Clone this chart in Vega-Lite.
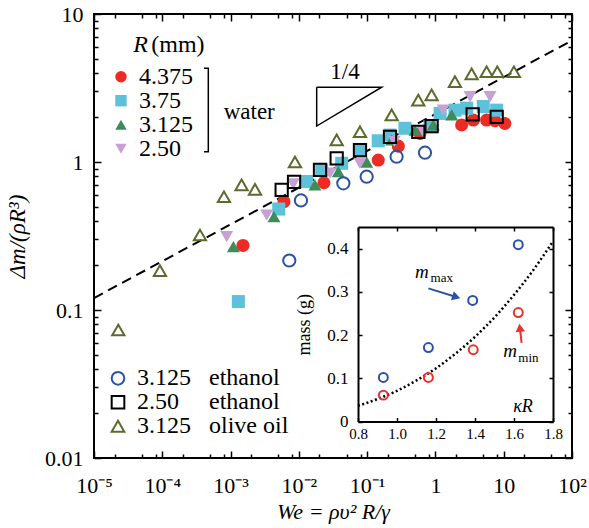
{
  "$schema": "https://vega.github.io/schema/vega-lite/v6.json",
  "width": 478,
  "height": 444,
  "autosize": {"type": "none"},
  "padding": {"left": 94, "top": 14, "right": 17, "bottom": 70},
  "background": "white",
  "config": {
    "view": {"stroke": "black", "strokeWidth": 2},
    "font": "Liberation Serif",
    "style": {"guide-label": {"font": "Liberation Serif", "fill": "black"}, "guide-title": {"font": "Liberation Serif", "fill": "black"}},
    "axis": {"labelFont": "Liberation Serif", "titleFont": "Liberation Serif", "labelColor": "black", "titleColor": "black", "tickColor": "black", "domainColor": "black", "titleFontWeight": "normal", "grid": false, "domain": false, "labelFontSize": 22, "titleFontSize": 22, "tickWidth": 1.5, "domainWidth": 2, "labelOverlap": false, "labelFlush": false},
    "legend": {"titleFont": "Liberation Serif", "labelFont": "Liberation Serif", "titleColor": "black", "labelColor": "black", "titleFontWeight": "normal", "titleFontSize": 24, "labelFontSize": 24, "padding": 0, "rowPadding": 0},
    "text": {"font": "Liberation Serif", "color": "black"}
  },
  "resolve": {"scale": {"x": "independent", "y": "independent"}, "axis": {"x": "independent", "y": "independent"}},
  "layer": [
    {
      "resolve": {"scale": {"color": "independent", "shape": "independent"}, "axis": {"x": "independent", "y": "independent"}, "legend": {"color": "independent", "shape": "independent"}},
      "layer": [
        {
          "data": {"values": [{"We": 1e-5, "dm": 0.1205}, {"We": 100, "dm": 6.63}]},
          "mark": {"type": "line", "stroke": "black", "strokeWidth": 2, "strokeDash": [10, 6]},
          "encoding": {
            "x": {"field": "We", "type": "quantitative", "scale": {"type": "log", "domain": [1e-5, 100], "nice": false},
              "axis": {"orient": "bottom", "values": [1e-5, 1e-4, 1e-3, 0.01, 0.1, 1, 10, 100], "tickSize": -7, "labelPadding": 24, "labelFont": "Liberation Serif", "labelExpr": "['10⁻⁵','10⁻⁴','10⁻³','10⁻²','10⁻¹','1','10','10²'][round(log(datum.value)/LN10)+5]", "title": "We = ρυ² R/γ", "titleFont": "Liberation Serif", "titleFontStyle": "italic", "titlePadding": 5}},
            "y": {"field": "dm", "type": "quantitative", "scale": {"type": "log", "domain": [0.01, 10], "nice": false},
              "axis": {"orient": "left", "values": [0.01, 0.1, 1, 10], "tickSize": -7, "labelPadding": 18, "labelFont": "Liberation Serif", "format": "~g", "title": "Δm/(ρR³)", "titleFont": "Liberation Serif", "titleFontSize": 23, "titleFontStyle": "italic", "titlePadding": 15}}
          }
        },
        {
          "data": {"values": [
            {"R": "4.375", "We": 0.00152, "dm": 0.273}, {"R": "4.375", "We": 0.00605, "dm": 0.539}, {"R": "4.375", "We": 0.0233, "dm": 0.724}, {"R": "4.375", "We": 0.1455, "dm": 1.03}, {"R": "4.375", "We": 0.286, "dm": 1.28}, {"R": "4.375", "We": 0.594, "dm": 1.56}, {"R": "4.375", "We": 2.42, "dm": 1.78}, {"R": "4.375", "We": 3.58, "dm": 1.92}, {"R": "4.375", "We": 5.62, "dm": 1.92}, {"R": "4.375", "We": 7.45, "dm": 1.9}, {"R": "4.375", "We": 10.4, "dm": 1.82},
            {"R": "3.75", "We": 0.0013, "dm": 0.114}, {"R": "3.75", "We": 0.00508, "dm": 0.481}, {"R": "3.75", "We": 0.013, "dm": 0.738}, {"R": "3.75", "We": 0.0216, "dm": 0.883}, {"R": "3.75", "We": 0.0424, "dm": 0.98}, {"R": "3.75", "We": 0.0785, "dm": 1.205}, {"R": "3.75", "We": 0.1455, "dm": 1.39}, {"R": "3.75", "We": 0.216, "dm": 1.52}, {"R": "3.75", "We": 0.358, "dm": 1.69}, {"R": "3.75", "We": 0.832, "dm": 1.73}, {"R": "3.75", "We": 1.17, "dm": 2.13}, {"R": "3.75", "We": 1.93, "dm": 2.24}, {"R": "3.75", "We": 2.87, "dm": 2.31}, {"R": "3.75", "We": 5.02, "dm": 2.37}, {"R": "3.75", "We": 7.89, "dm": 2.24},
            {"R": "3.125", "We": 0.0011, "dm": 0.268}, {"R": "3.125", "We": 0.00432, "dm": 0.427}, {"R": "3.125", "We": 0.0172, "dm": 0.7}, {"R": "3.125", "We": 0.0378, "dm": 0.86}, {"R": "3.125", "We": 0.0984, "dm": 1.0}, {"R": "3.125", "We": 0.2286, "dm": 1.41}, {"R": "3.125", "We": 0.502, "dm": 1.64}, {"R": "3.125", "We": 0.93, "dm": 1.78}, {"R": "3.125", "We": 1.73, "dm": 2.08},
            {"R": "2.50", "We": 0.000877, "dm": 0.313}, {"R": "2.50", "We": 0.00338, "dm": 0.438}, {"R": "2.50", "We": 0.00828, "dm": 0.71}, {"R": "2.50", "We": 0.0286, "dm": 0.84}, {"R": "2.50", "We": 0.0785, "dm": 0.98}, {"R": "2.50", "We": 0.25, "dm": 1.38}, {"R": "2.50", "We": 0.65, "dm": 1.62}, {"R": "2.50", "We": 1.3, "dm": 2.24}, {"R": "2.50", "We": 3.21, "dm": 2.76}, {"R": "2.50", "We": 6.3, "dm": 2.76}
          ]},
          "mark": {"type": "point", "filled": true, "opacity": 1, "size": 170, "strokeWidth": 0},
          "encoding": {
            "x": {"field": "We", "type": "quantitative", "scale": {"type": "log", "domain": [1e-5, 100], "nice": false},
              "axis": {"orient": "bottom", "values": [2e-5, 5e-5, 8e-5, 2e-4, 5e-4, 8e-4, 2e-3, 5e-3, 8e-3, 0.02, 0.05, 0.08, 0.2, 0.5, 0.8, 2, 5, 8, 20, 50, 80], "tickSize": -4, "labels": false, "title": null}},
            "y": {"field": "dm", "type": "quantitative", "scale": {"type": "log", "domain": [0.01, 10], "nice": false},
              "axis": {"orient": "left", "values": [0.02, 0.03, 0.04, 0.05, 0.06, 0.07, 0.08, 0.09, 0.2, 0.3, 0.4, 0.5, 0.6, 0.7, 0.8, 0.9, 2, 3, 4, 5, 6, 7, 8, 9], "tickSize": -4, "labels": false, "title": null}},
            "color": {"field": "R", "type": "nominal", "scale": {"domain": ["4.375", "3.75", "3.125", "2.50"], "range": ["#ec2b25", "#5ec1da", "#3f8b5a", "#c7a0d4"]},
              "legend": {"orient": "none", "legendX": 15, "legendY": 50.7, "title": null, "labelFont": "Liberation Serif", "labelFontSize": 24, "rowPadding": -2.5, "symbolSize": 130, "labelOffset": 6, "symbolOpacity": 1}},
            "shape": {"field": "R", "type": "nominal", "scale": {"domain": ["4.375", "3.75", "3.125", "2.50"], "range": ["circle", "square", "triangle-up", "triangle-down"]},
              "legend": {"orient": "none", "legendX": 15, "legendY": 50.7, "title": null, "labelFont": "Liberation Serif", "labelFontSize": 24, "rowPadding": -2.5, "symbolSize": 130, "labelOffset": 6, "symbolOpacity": 1}}
          }
        },
        {
          "data": {"values": [
            {"fluid": "3.125 ethanol", "We": 0.00724, "dm": 0.216}, {"fluid": "3.125 ethanol", "We": 0.01074, "dm": 0.55}, {"fluid": "3.125 ethanol", "We": 0.0448, "dm": 0.718}, {"fluid": "3.125 ethanol", "We": 0.0984, "dm": 0.796}, {"fluid": "3.125 ethanol", "We": 0.27, "dm": 1.086}, {"fluid": "3.125 ethanol", "We": 0.703, "dm": 1.155},
            {"fluid": "2.50 ethanol", "We": 0.0056, "dm": 0.647}, {"fluid": "2.50 ethanol", "We": 0.0085, "dm": 0.733}, {"fluid": "2.50 ethanol", "We": 0.0204, "dm": 0.883}, {"fluid": "2.50 ethanol", "We": 0.0358, "dm": 1.06}, {"fluid": "2.50 ethanol", "We": 0.0785, "dm": 1.205}, {"fluid": "2.50 ethanol", "We": 0.216, "dm": 1.48}, {"fluid": "2.50 ethanol", "We": 0.561, "dm": 1.6}, {"fluid": "2.50 ethanol", "We": 0.88, "dm": 1.75}, {"fluid": "2.50 ethanol", "We": 3.51, "dm": 2.1}, {"fluid": "2.50 ethanol", "We": 7.89, "dm": 2.02},
            {"fluid": "3.125 olive oil", "We": 2.27e-5, "dm": 0.0733}, {"fluid": "3.125 olive oil", "We": 9.24e-5, "dm": 0.1845}, {"fluid": "3.125 olive oil", "We": 0.000356, "dm": 0.321}, {"fluid": "3.125 olive oil", "We": 0.0008, "dm": 0.583}, {"fluid": "3.125 olive oil", "We": 0.00145, "dm": 0.7}, {"fluid": "3.125 olive oil", "We": 0.00228, "dm": 0.653}, {"fluid": "3.125 olive oil", "We": 0.00877, "dm": 1.0}, {"fluid": "3.125 olive oil", "We": 0.0358, "dm": 1.41}, {"fluid": "3.125 olive oil", "We": 0.0785, "dm": 1.6}, {"fluid": "3.125 olive oil", "We": 0.2286, "dm": 2.08}, {"fluid": "3.125 olive oil", "We": 0.561, "dm": 2.62}, {"fluid": "3.125 olive oil", "We": 0.88, "dm": 2.84}, {"fluid": "3.125 olive oil", "We": 1.93, "dm": 3.49}, {"fluid": "3.125 olive oil", "We": 3.39, "dm": 3.94}, {"fluid": "3.125 olive oil", "We": 5.62, "dm": 4.07}, {"fluid": "3.125 olive oil", "We": 8.05, "dm": 4.07}, {"fluid": "3.125 olive oil", "We": 14.1, "dm": 4.07}
          ]},
          "mark": {"type": "point", "filled": false, "opacity": 1, "size": 150, "strokeWidth": 2},
          "encoding": {
            "x": {"field": "We", "type": "quantitative", "scale": {"type": "log", "domain": [1e-5, 100], "nice": false},
              "axis": {"orient": "top", "values": [1e-5, 1e-4, 1e-3, 0.01, 0.1, 1, 10, 100], "tickSize": -7, "labels": false, "title": null}},
            "y": {"field": "dm", "type": "quantitative", "scale": {"type": "log", "domain": [0.01, 10], "nice": false},
              "axis": {"orient": "right", "values": [0.01, 0.1, 1, 10], "tickSize": -7, "labels": false, "title": null}},
            "color": {"field": "fluid", "type": "nominal", "scale": {"domain": ["3.125 ethanol", "2.50 ethanol", "3.125 olive oil"], "range": ["#2c52a6", "#000000", "#5a6b2d"]},
              "legend": {"orient": "none", "legendX": 12, "legendY": 352.3, "title": null, "labelFont": "Liberation Serif", "labelFontSize": 24, "rowPadding": -0.7, "symbolSize": 160, "symbolStrokeWidth": 2, "labelOffset": 7, "symbolOpacity": 1, "labelExpr": "datum.label == '2.50 ethanol' ? '2.50\u00a0\u00a0\u00a0\u00a0\u00a0ethanol' : replace(datum.label, ' ', '\u00a0\u00a0\u00a0')"}},
            "shape": {"field": "fluid", "type": "nominal", "scale": {"domain": ["3.125 ethanol", "2.50 ethanol", "3.125 olive oil"], "range": ["circle", "square", "triangle-up"]},
              "legend": {"orient": "none", "legendX": 12, "legendY": 352.3, "title": null, "labelFont": "Liberation Serif", "labelFontSize": 24, "rowPadding": -0.7, "symbolSize": 160, "symbolStrokeWidth": 2, "labelOffset": 7, "symbolOpacity": 1, "labelExpr": "datum.label == '2.50 ethanol' ? '2.50\u00a0\u00a0\u00a0\u00a0\u00a0ethanol' : replace(datum.label, ' ', '\u00a0\u00a0\u00a0')"}}
          }
        },
        {
          "data": {"values": [{"i": 1, "We": 0.01824, "dm": 3.2}, {"i": 2, "We": 0.1633, "dm": 3.2}, {"i": 3, "We": 0.01824, "dm": 1.75}, {"i": 4, "We": 0.01824, "dm": 3.2}]},
          "mark": {"type": "line", "stroke": "black", "strokeWidth": 1.5},
          "encoding": {
            "x": {"field": "We", "type": "quantitative", "scale": {"type": "log", "domain": [1e-5, 100], "nice": false},
              "axis": {"orient": "top", "values": [2e-5, 5e-5, 8e-5, 2e-4, 5e-4, 8e-4, 2e-3, 5e-3, 8e-3, 0.02, 0.05, 0.08, 0.2, 0.5, 0.8, 2, 5, 8, 20, 50, 80], "tickSize": -4, "labels": false, "title": null}},
            "y": {"field": "dm", "type": "quantitative", "scale": {"type": "log", "domain": [0.01, 10], "nice": false},
              "axis": {"orient": "right", "values": [0.02, 0.03, 0.04, 0.05, 0.06, 0.07, 0.08, 0.09, 0.2, 0.3, 0.4, 0.5, 0.6, 0.7, 0.8, 0.9, 2, 3, 4, 5, 6, 7, 8, 9], "tickSize": -4, "labels": false, "title": null}},
            "order": {"field": "i", "type": "quantitative"}
          }
        },
        {
          "data": {"values": [{"i": 1, "We": 0.000408, "dm": 4.3}, {"i": 2, "We": 0.000472, "dm": 4.3}, {"i": 3, "We": 0.000472, "dm": 1.174}, {"i": 4, "We": 0.000408, "dm": 1.174}]},
          "mark": {"type": "line", "stroke": "black", "strokeWidth": 1.5},
          "encoding": {
            "x": {"field": "We", "type": "quantitative", "scale": {"type": "log", "domain": [1e-5, 100], "nice": false}, "axis": null},
            "y": {"field": "dm", "type": "quantitative", "scale": {"type": "log", "domain": [0.01, 10], "nice": false}, "axis": null},
            "order": {"field": "i", "type": "quantitative"}
          }
        },
        {
          "data": {"values": [{"label": "1/4", "We": 0.0474, "dm": 4.07}, {"label": "water", "We": 0.001875, "dm": 2.19}]},
          "mark": {"type": "text", "fontSize": 23, "font": "Liberation Serif", "align": "center", "baseline": "middle"},
          "encoding": {
            "x": {"field": "We", "type": "quantitative", "scale": {"type": "log", "domain": [1e-5, 100], "nice": false}, "axis": null},
            "y": {"field": "dm", "type": "quantitative", "scale": {"type": "log", "domain": [0.01, 10], "nice": false}, "axis": null},
            "text": {"field": "label"}
          }
        },
        {
          "data": {"values": [{"label": "R", "We": 3.77e-5, "dm": 5.56}]},
          "mark": {"type": "text", "fontSize": 24, "font": "Liberation Serif", "fontStyle": "italic", "align": "left", "baseline": "alphabetic"},
          "encoding": {
            "x": {"field": "We", "type": "quantitative", "scale": {"type": "log", "domain": [1e-5, 100], "nice": false}, "axis": null},
            "y": {"field": "dm", "type": "quantitative", "scale": {"type": "log", "domain": [0.01, 10], "nice": false}, "axis": null},
            "text": {"field": "label"}
          }
        },
        {
          "data": {"values": [{"label": "(mm)", "We": 6.9e-5, "dm": 5.56}]},
          "mark": {"type": "text", "fontSize": 24, "font": "Liberation Serif", "align": "left", "baseline": "alphabetic"},
          "encoding": {
            "x": {"field": "We", "type": "quantitative", "scale": {"type": "log", "domain": [1e-5, 100], "nice": false}, "axis": null},
            "y": {"field": "dm", "type": "quantitative", "scale": {"type": "log", "domain": [0.01, 10], "nice": false}, "axis": null},
            "text": {"field": "label"}
          }
        }
      ]
    },
    {
      "resolve": {"axis": {"x": "independent", "y": "independent"}},
      "layer": [
        {
          "data": {"values": [{"kR": 0.8, "mass": 0.036}, {"kR": 0.9, "mass": 0.052}, {"kR": 1.0, "mass": 0.071}, {"kR": 1.1, "mass": 0.095}, {"kR": 1.2, "mass": 0.123}, {"kR": 1.3, "mass": 0.157}, {"kR": 1.4, "mass": 0.196}, {"kR": 1.5, "mass": 0.241}, {"kR": 1.6, "mass": 0.293}, {"kR": 1.7, "mass": 0.351}, {"kR": 1.8, "mass": 0.417}]},
          "mark": {"type": "line", "stroke": "black", "strokeWidth": 2.5, "strokeDash": [2, 2.5], "interpolate": "monotone"},
          "encoding": {
            "x": {"field": "kR", "type": "quantitative", "scale": {"domain": [0.8, 1.8], "range": [264, 459], "nice": false, "zero": false},
              "axis": {"orient": "bottom", "offset": -36.5, "values": [0.8, 1.0, 1.2, 1.4, 1.6, 1.8], "format": ".1f", "tickSize": -4, "domain": true, "labelFont": "Liberation Serif", "labelFontSize": 15, "labelPadding": 9, "title": null}},
            "y": {"field": "mass", "type": "quantitative", "scale": {"domain": [0, 0.45], "range": [407.5, 213], "nice": false, "zero": false},
              "axis": {"orient": "left", "offset": -264, "values": [0, 0.1, 0.2, 0.3, 0.4], "labelExpr": "datum.value == 0 ? '0' : format(datum.value, '.1f')", "tickSize": -4, "domain": true, "labelFont": "Liberation Serif", "labelFontSize": 17, "labelPadding": 14, "title": "mass (g)", "titleFont": "Liberation Serif", "titleFontSize": 18, "titlePadding": 13}}
          }
        },
        {
          "data": {"values": [
            {"kind": "max", "kR": 0.93, "mass": 0.102}, {"kind": "max", "kR": 1.161, "mass": 0.171}, {"kind": "max", "kR": 1.388, "mass": 0.28}, {"kind": "max", "kR": 1.622, "mass": 0.409},
            {"kind": "min", "kR": 0.93, "mass": 0.061}, {"kind": "min", "kR": 1.161, "mass": 0.102}, {"kind": "min", "kR": 1.391, "mass": 0.166}, {"kind": "min", "kR": 1.622, "mass": 0.252}
          ]},
          "mark": {"type": "point", "filled": false, "opacity": 1, "size": 80, "strokeWidth": 2},
          "encoding": {
            "x": {"field": "kR", "type": "quantitative", "scale": {"domain": [0.8, 1.8], "range": [264, 459], "nice": false, "zero": false},
              "axis": {"orient": "top", "offset": -213, "values": [0.8, 1.0, 1.2, 1.4, 1.6, 1.8], "tickSize": -4, "domain": true, "labels": false, "title": null}},
            "y": {"field": "mass", "type": "quantitative", "scale": {"domain": [0, 0.45], "range": [407.5, 213], "nice": false, "zero": false},
              "axis": {"orient": "right", "offset": -19, "values": [0, 0.1, 0.2, 0.3, 0.4], "tickSize": -4, "domain": true, "labels": false, "title": null}},
            "color": {"field": "kind", "type": "nominal", "scale": {"domain": ["max", "min"], "range": ["#2c52a6", "#e8322b"]}, "legend": null}
          }
        },
        {
          "data": {"values": [{"kind": "max", "kR": 1.161, "mass": 0.308, "kR2": 1.304, "mass2": 0.288}, {"kind": "min", "kR": 1.639, "mass": 0.182, "kR2": 1.63, "mass2": 0.217}]},
          "mark": {"type": "rule", "strokeWidth": 2},
          "encoding": {
            "x": {"field": "kR", "type": "quantitative", "axis": null},
            "y": {"field": "mass", "type": "quantitative", "axis": null},
            "x2": {"field": "kR2"},
            "y2": {"field": "mass2"},
            "color": {"field": "kind", "type": "nominal", "legend": null}
          }
        },
        {
          "data": {"values": [{"kR": 1.304, "mass": 0.288}]},
          "mark": {"type": "point", "shape": "triangle-right", "filled": true, "opacity": 1, "size": 90, "angle": 17.5, "color": "#2c52a6"},
          "encoding": {
            "x": {"field": "kR", "type": "quantitative", "axis": null},
            "y": {"field": "mass", "type": "quantitative", "axis": null}
          }
        },
        {
          "data": {"values": [{"kR": 1.63, "mass": 0.217}]},
          "mark": {"type": "point", "shape": "triangle-right", "filled": true, "opacity": 1, "size": 90, "angle": -97, "color": "#e8322b"},
          "encoding": {
            "x": {"field": "kR", "type": "quantitative", "axis": null},
            "y": {"field": "mass", "type": "quantitative", "axis": null}
          }
        },
        {
          "data": {"values": [{"label": "m", "kR": 1.092, "mass": 0.332}, {"label": "m", "kR": 1.545, "mass": 0.15}]},
          "mark": {"type": "text", "fontSize": 19, "font": "Liberation Serif", "fontStyle": "italic", "align": "left", "baseline": "alphabetic"},
          "encoding": {
            "x": {"field": "kR", "type": "quantitative", "axis": null},
            "y": {"field": "mass", "type": "quantitative", "axis": null},
            "text": {"field": "label"}
          }
        },
        {
          "data": {"values": [{"label": "max", "kR": 1.172, "mass": 0.3236}, {"label": "min", "kR": 1.622, "mass": 0.138}]},
          "mark": {"type": "text", "fontSize": 13, "font": "Liberation Serif", "align": "left", "baseline": "alphabetic"},
          "encoding": {
            "x": {"field": "kR", "type": "quantitative", "axis": null},
            "y": {"field": "mass", "type": "quantitative", "axis": null},
            "text": {"field": "label"}
          }
        },
        {
          "data": {"values": [{"label": "κR", "kR": 1.596, "mass": 0.023}]},
          "mark": {"type": "text", "fontSize": 18, "font": "Liberation Serif", "fontStyle": "italic", "align": "left", "baseline": "alphabetic"},
          "encoding": {
            "x": {"field": "kR", "type": "quantitative", "axis": null},
            "y": {"field": "mass", "type": "quantitative", "axis": null},
            "text": {"field": "label"}
          }
        }
      ]
    }
  ]
}
